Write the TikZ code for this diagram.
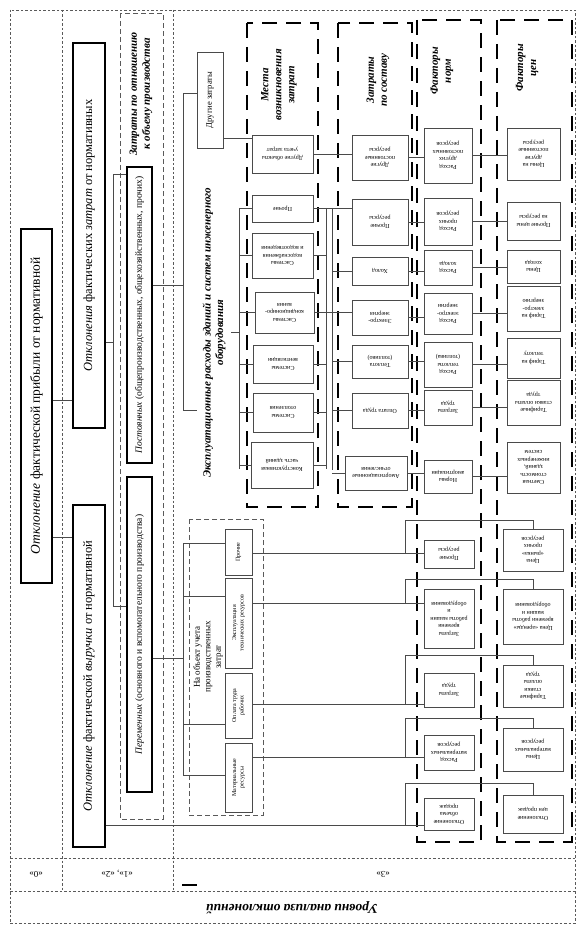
\documentclass[tikz,border=0pt]{standalone}
\usepackage{fontspec}
\setmainfont{Liberation Serif}
\usepackage{graphicx}
\usetikzlibrary{calc}
\definecolor{linegray}{HTML}{4A4A4A}
\definecolor{framegray}{HTML}{5A5A5A}
\newcommand{\vtxt}[1]{\rotatebox{90}{#1}}
\newcommand{\utxt}[1]{\rotatebox{180}{#1}}
\newcommand{\vpar}[2]{\rotatebox{90}{\parbox{#1}{\centering #2}}}
\newcommand{\upar}[2]{\rotatebox{180}{\parbox{#1}{\centering #2}}}

\begin{document}
\begin{tikzpicture}[x=1pt, y=-1pt,
  boxat/.style n args={4}{minimum width={#3-#1}, minimum height={#4-#2}, at={({(#1+#3)/2},{(#2+#4)/2})}},
  mainbox/.style={rectangle, draw=black, line width=1.3pt, inner sep=0pt},
  dblbox/.style={rectangle, draw=black, double, double distance=1.5pt, line width=0.7pt, inner sep=0pt},
  smallbox/.style={rectangle, draw=linegray, line width=0.6pt, inner sep=0pt, font=\fontsize{6}{7.5}\selectfont},
  colframe/.style={draw=black, line width=2.4pt, dash pattern=on 15pt off 9pt},
  grpframe/.style={draw=framegray, line width=0.7pt, dash pattern=on 5pt off 3pt},
  lvlframe/.style={draw=framegray, line width=0.6pt, dash pattern=on 2.5pt off 2pt},
  conn/.style={draw=linegray, line width=0.6pt},
  colhead/.style={font=\fontsize{11}{13}\selectfont\bfseries\itshape, rotate=90, align=center}
]
\useasboundingbox (0,0) rectangle (580,941);

% Levels of analysis
\draw[lvlframe] (10,10) rectangle (575,923);
\draw[lvlframe] (62,10) -- (62,891);
\draw[lvlframe] (173,10) -- (173,891);
\draw[lvlframe] (10,858) -- (575,858);
\draw[lvlframe] (10,891) -- (575,891);
\node[font=\fontsize{9}{10}\selectfont, rotate=180] (lvl0) at (36,874) {«0»};
\node[font=\fontsize{9}{10}\selectfont, rotate=180] (lvl12) at (117,874) {«1», «2»};
\node[font=\fontsize{9}{10}\selectfont, rotate=180] (lvl3) at (383,874) {«3»};
\draw[line width=1.4pt] (182,885) -- (197,885);
\node[font=\fontsize{13.5}{15}\selectfont\bfseries\itshape, rotate=180] (levels) at (292,908) {Уровни анализа отклонений};

% Level 0 and 1
\node[mainbox, boxat={21}{229}{52}{583}] (dev0) {\vtxt{\fontsize{13.5}{15}\selectfont\textit{Отклонение} фактической прибыли от нормативной}};
\node[mainbox, boxat={73}{43}{105}{428}] (dcost) {\vtxt{\fontsize{12.5}{14}\selectfont\textit{Отклонения} фактических \textit{затрат} от нормативных}};
\node[mainbox, boxat={73}{505}{105}{847}] (drev) {\vtxt{\fontsize{12.5}{14}\selectfont\textit{Отклонение} фактической \textit{выручки} от нормативной}};

\coordinate (j0a) at (62,400);
\coordinate (j0b) at (62,537);
\draw[conn] (dev0.east |- j0a) -- (dcost.west |- j0a);
\draw[conn] (dev0.east |- j0b) -- (drev.west |- j0b);

% Level 2: costs by volume
\draw[grpframe] (120,13) rectangle (163,819);
\node[colhead] (hvol) at (141,94) {Затраты по отношению\\к объему производства};
\node[mainbox, line width=1.1pt, boxat={127}{167}{152}{463}] (fixed) {\vtxt{\fontsize{9.5}{11}\selectfont\textit{Постоянных} (общепроизводственных, общехозяйственных, прочих)}};
\node[mainbox, line width=1.1pt, boxat={127}{477}{152}{792}] (variable) {\vtxt{\fontsize{9.5}{11}\selectfont\textit{Переменных} (основного и вспомогательного производства)}};

\coordinate (b2t) at (113,174);
\coordinate (b2m) at (113,342);
\coordinate (b2b) at (113,606);
\draw[conn] (dcost.east |- b2m) -- (b2m);
\draw[conn] (fixed.west |- b2t) -- (b2t) -- (b2b) -- (variable.west |- b2b);

% Level 3: fixed costs
\node[smallbox, font=\fontsize{8.5}{10}\selectfont, boxat={197}{52}{223}{148}] (othcost) {\vtxt{Другие затраты}};
\node[dblbox, font=\fontsize{11}{12.5}\selectfont\bfseries\itshape, boxat={197}{162}{231}{503}] (bexp) {\vpar{330pt}{Эксплуатационные расходы зданий и систем инженерного\\оборудования}};

\coordinate (b3t) at (183,93);
\coordinate (b3m) at (183,285);
\coordinate (b3b) at (183,410);
\draw[conn] (fixed.east |- b3m) -- (b3m);
\draw[conn] (othcost.west |- b3t) -- (b3t) -- (b3b) -- (bexp.west |- b3b);

% Level 3: variable costs
\draw[grpframe] (189,519) rectangle (263,815);
\node[font=\fontsize{9}{10.5}\selectfont, rotate=90, align=center] (hobj) at (208,657) {На объект учета\\производственных\\затрат};
\node[smallbox, boxat={225}{529}{252}{575}] (vother) {\vtxt{Прочие}};
\node[smallbox, boxat={225}{578}{252}{668}] (vtech) {\vpar{86pt}{Эксплуатация\\технических ресурсов}};
\node[smallbox, boxat={225}{673}{252}{738}] (vlab) {\vpar{60pt}{Оплата труда\\рабочих}};
\node[smallbox, boxat={225}{743}{252}{812}] (vmat) {\vpar{64pt}{Материальные\\ресурсы}};

\coordinate (b4t) at (183,543);
\coordinate (b4a) at (183,596);
\coordinate (b4m) at (183,658);
\coordinate (b4c) at (183,724);
\coordinate (b4b) at (183,775);
\draw[conn] (variable.east |- b4m) -- (b4m);
\draw[conn] (vother.west |- b4t) -- (b4t) -- (b4b) -- (vmat.west |- b4b);
\draw[conn] (b4a) -- (vtech.west |- b4a);
\draw[conn] (b4c) -- (vlab.west |- b4c);

% Places of cost origin
\draw[colframe] (247,23) rectangle (318,507);
\node[colhead] (hplace) at (279,85) {Места\\возникновения\\затрат};
\node[smallbox, boxat={252}{135}{313}{173}] (pobj) {\upar{56pt}{Другие объекты\\учета затрат}};
\node[smallbox, boxat={252}{195}{313}{222}] (poth) {\utxt{Прочие}};
\node[smallbox, boxat={252}{233}{313}{278}] (pwat) {\upar{56pt}{Системы\\водоснабжения\\и водоотведения}};
\node[smallbox, boxat={255}{292}{314}{333}] (pcond) {\upar{56pt}{Системы\\кондициониро-\\вания}};
\node[smallbox, boxat={253}{345}{313}{383}] (pvent) {\upar{56pt}{Системы\\вентиляции}};
\node[smallbox, boxat={253}{393}{313}{432}] (pheat) {\upar{56pt}{Системы\\отопления}};
\node[smallbox, boxat={251}{442}{313}{488}] (pcons) {\upar{58pt}{Конструктивная\\часть зданий}};

\coordinate (j5) at (237,138);
\draw[conn] (othcost.east |- j5) -- (pobj.west |- j5);
\coordinate (b5t) at (239,208);
\coordinate (b5b) at (239,469);
\draw[conn] (bexp.east) -- (bexp.east -| b5t);
\draw[conn] (b5t) -- (b5b);
\foreach \n in {poth,pwat,pcond,pvent,pheat,pcons}
  \draw[conn] (\n.west -| b5t) -- (\n.west);

% Costs by composition
\draw[colframe] (338,23) rectangle (412,507);
\node[colhead] (hcomp) at (378,80) {Затраты\\по составу};
\node[smallbox, boxat={352}{135}{408}{180}] (rfix) {\upar{52pt}{Другие\\постоянные\\ресурсы}};
\node[smallbox, boxat={352}{199}{408}{245}] (roth) {\upar{52pt}{Прочие\\ресурсы}};
\node[smallbox, boxat={352}{257}{408}{285}] (rcold) {\utxt{Холод}};
\node[smallbox, boxat={352}{300}{408}{335}] (rel) {\upar{52pt}{Электро-\\энергия}};
\node[smallbox, boxat={352}{345}{408}{378}] (rheat) {\upar{52pt}{Теплота\\(топливо)}};
\node[smallbox, boxat={352}{393}{408}{428}] (rlab) {\utxt{Оплата труда}};
\node[smallbox, boxat={345}{456}{407}{490}] (ramo) {\upar{58pt}{Амортизационные\\отчисления}};

\draw[conn] (pobj.east) -- (rfix.west |- pobj.east);
\coordinate (b6t) at (326,208);
\coordinate (b6b) at (326,469);
\coordinate (b7t) at (332,208);
\coordinate (b7b) at (332,470);
\draw[conn] (b6t) -- (b6b);
\draw[conn] (b7t) -- (b7b);
\draw[conn] (poth.east) -- (roth.west |- poth.east);
\foreach \n in {pwat,pvent,pheat,pcons}
  \draw[conn] (\n.east) -- (\n.east -| b6t);
\draw[conn] (pcond.east) -- (rel.west |- pcond.east);
\foreach \n in {rcold,rheat,rlab,ramo}
  \draw[conn] (\n.west -| b7t) -- (\n.west);

% Norm factors
\draw[colframe] (417,20) rectangle (481,842);
\node[colhead] (hnorm) at (442,71) {Факторы\\норм};
\node[smallbox, boxat={424}{128}{472}{183}] (nfix) {\upar{44pt}{Расход\\других\\постоянных\\ресурсов}};
\node[smallbox, boxat={424}{198}{472}{245}] (noth) {\upar{44pt}{Расход\\прочих\\ресурсов}};
\node[smallbox, boxat={424}{250}{472}{285}] (ncold) {\upar{44pt}{Расход\\холода}};
\node[smallbox, boxat={424}{293}{472}{334}] (nel) {\upar{44pt}{Расход\\электро-\\энергии}};
\node[smallbox, boxat={424}{342}{472}{387}] (nheat) {\upar{44pt}{Расход\\теплоты\\(топлива)}};
\node[smallbox, boxat={424}{390}{472}{425}] (nlab) {\upar{44pt}{Затраты\\труда}};
\node[smallbox, boxat={424}{460}{472}{493}] (namo) {\upar{44pt}{Нормы\\амортизации}};
\node[smallbox, boxat={424}{540}{474}{568}] (nres) {\upar{46pt}{Прочие\\ресурсы}};
\node[smallbox, boxat={424}{589}{474}{648}] (nmach) {\upar{46pt}{Затраты\\времени\\работы машин\\и\\оборудования}};
\node[smallbox, boxat={424}{673}{474}{707}] (nlab2) {\upar{46pt}{Затраты\\труда}};
\node[smallbox, boxat={424}{735}{474}{770}] (nmat) {\upar{46pt}{Расход\\материальных\\ресурсов}};
\node[smallbox, boxat={424}{798}{474}{830}] (nsale) {\upar{46pt}{Отклонение\\объема\\продаж}};

\foreach \a/\b in {rfix/nfix, roth/noth, rcold/ncold, rel/nel, rheat/nheat, rlab/nlab, ramo/namo}
  \draw[conn] (\a.east) -- (\b.west |- \a.east);

% Price factors
\draw[colframe] (497,20) rectangle (572,842);
\node[colhead] (hprice) at (527,68) {Факторы\\цен};
\node[smallbox, boxat={507}{128}{560}{180}] (cfix) {\upar{48pt}{Цены на\\другие\\постоянные\\ресурсы}};
\node[smallbox, boxat={507}{202}{560}{240}] (coth) {\upar{48pt}{Прочие цены\\на ресурсы}};
\node[smallbox, boxat={507}{250}{560}{283}] (ccold) {\upar{48pt}{Цены\\холода}};
\node[smallbox, boxat={507}{286}{560}{331}] (cel) {\upar{48pt}{Тариф на\\электро-\\энергию}};
\node[smallbox, boxat={507}{338}{560}{378}] (cheat) {\upar{48pt}{Тариф на\\теплоту}};
\node[smallbox, boxat={507}{380}{560}{425}] (clab) {\upar{48pt}{Тарифные\\ставки оплаты\\труда}};
\node[smallbox, boxat={507}{442}{560}{493}] (camo) {\upar{48pt}{Сметная\\стоимость\\зданий,\\инженерных\\систем}};
\node[smallbox, boxat={503}{529}{563}{571}] (cres) {\upar{56pt}{Цена\\«рынка»\\прочих\\ресурсов}};
\node[smallbox, boxat={503}{589}{563}{644}] (cmach) {\upar{56pt}{Цена «аренды»\\времени работы\\машин и\\оборудования}};
\node[smallbox, boxat={503}{665}{563}{707}] (clab2) {\upar{56pt}{Тарифные\\ставки\\оплаты\\труда}};
\node[smallbox, boxat={503}{728}{563}{771}] (cmat) {\upar{56pt}{Цены\\материальных\\ресурсов}};
\node[smallbox, boxat={503}{795}{563}{833}] (csale) {\upar{56pt}{Отклонение\\цен продаж}};

\foreach \a/\b in {nfix/cfix, noth/coth, ncold/ccold, nel/cel, nheat/cheat, nlab/clab, namo/camo}
  \draw[conn] (\a.east) -- (\b.west |- \a.east);

% Variable cost links
\coordinate (j7a) at (405,553);
\coordinate (j7b) at (405,603);
\coordinate (j7c) at (405,704);
\coordinate (j7d) at (405,757);
\coordinate (j7e) at (405,825);
\coordinate (u7a) at (405,520);
\coordinate (u7b) at (405,579);
\coordinate (u7c) at (405,655);
\coordinate (u7d) at (405,718);
\coordinate (u7e) at (405,783);
\draw[conn] (vother.east |- j7a) -- (nres.west |- j7a);
\draw[conn] (vtech.east |- j7b) -- (nmach.west |- j7b);
\draw[conn] (vlab.east |- j7c) -- (nlab2.west |- j7c);
\draw[conn] (vmat.east |- j7d) -- (nmat.west |- j7d);
\draw[conn] (drev.east |- j7e) -- (nsale.west |- j7e);
\foreach \j/\u/\c in {j7a/u7a/cres, j7b/u7b/cmach, j7c/u7c/clab2, j7d/u7d/cmat, j7e/u7e/csale}
  \draw[conn] (\j) -- (\u) -| (\c.north);

\end{tikzpicture}
\end{document}
